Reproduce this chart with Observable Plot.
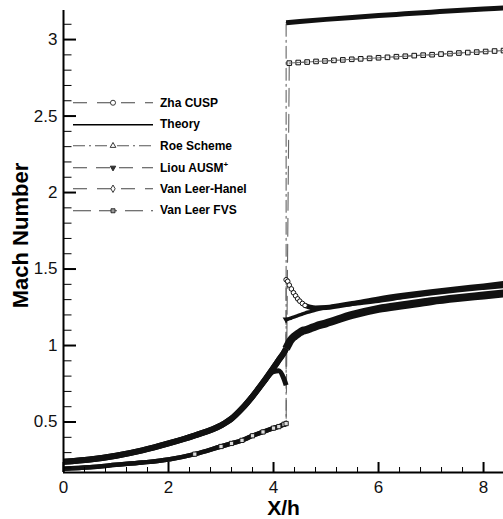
<!DOCTYPE html>
<html><head><meta charset="utf-8">
<script src="https://cdn.jsdelivr.net/npm/d3@7"></script>
<script src="https://cdn.jsdelivr.net/npm/@observablehq/plot@0.6"></script>
<style>
html,body{margin:0;padding:0;background:#fff;}
#wrap{position:relative;width:503px;height:519px;font-family:"Liberation Sans",Arial,sans-serif;}
#legend{position:absolute;left:73px;top:92px;}
.row{display:flex;align-items:center;height:21.5px;}
.row svg{display:block;}
.row span{font-weight:bold;font-size:12px;margin-left:7px;color:#000;white-space:nowrap;}
.row sup{font-size:8px;}
</style></head><body><div id="wrap"><div id="legend"></div></div>
<script>
// ---------- data ----------
const seriesNames = ["Zha CUSP", "Theory", "Roe Scheme", "Liou AUSM+", "Van Leer-Hanel", "Van Leer FVS"];
const xDomain = [0, 8.38];
const yDomain = [0.17, 3.19];
const xTicks = [0, 2, 4, 6, 8];
const xTickLabels = ["0", "2", "4", "6", "8"];
const yTicks = [0.5, 1, 1.5, 2, 2.5, 3];
const yTickLabels = ["0.5", "1", "1.5", "2", "2.5", "3"];
const xLabel = "X/h";
const yLabel = "Mach Number";

// upstream of the shock
const xPre = [0, 0.5, 1, 1.5, 2, 2.5, 3, 3.2, 3.4, 3.6, 3.8, 4.0, 4.1, 4.2, 4.24];
const machPreUpper = [0.24, 0.255, 0.28, 0.315, 0.36, 0.412, 0.478, 0.522, 0.588, 0.668, 0.758, 0.855, 0.905, 0.955, 0.98];
const machPreLiou  = [0.24, 0.255, 0.28, 0.315, 0.36, 0.412, 0.478, 0.522, 0.588, 0.668, 0.755, 0.83, 0.835, 0.78, 0.74];
const machPreLower = [0.195, 0.205, 0.22, 0.235, 0.255, 0.29, 0.34, 0.36, 0.38, 0.41, 0.435, 0.46, 0.47, 0.485, 0.49];

// downstream, subsonic-side branches
const xPost = [4.24, 4.27, 4.3, 4.34, 4.38, 4.42, 4.46, 4.5, 4.55, 4.6, 4.7, 4.8, 5.0, 5.5, 6.0, 6.5, 7.0, 7.5, 8.0, 8.38];
const machPostZha   = [1.43, 1.42, 1.395, 1.37, 1.345, 1.325, 1.305, 1.29, 1.275, 1.262, 1.25, 1.245, 1.248, 1.275, 1.305, 1.33, 1.352, 1.372, 1.39, 1.405];
const machPostLiou  = [1.17, 1.172, 1.176, 1.18, 1.185, 1.19, 1.195, 1.2, 1.206, 1.212, 1.222, 1.232, 1.248, 1.27, 1.29, 1.315, 1.338, 1.358, 1.375, 1.387];
const machPostHanel = [0.98, 1.0, 1.02, 1.04, 1.055, 1.065, 1.075, 1.085, 1.095, 1.1, 1.112, 1.125, 1.145, 1.2, 1.24, 1.265, 1.29, 1.31, 1.327, 1.34];

// downstream, supersonic branches
const xUpper = [4.24, 4.5, 5, 5.5, 6, 6.5, 7, 7.5, 8, 8.38];
const machUpper = [3.11, 3.118, 3.132, 3.145, 3.157, 3.168, 3.179, 3.19, 3.2, 3.207];
const xUpperFVS = [4.3, 4.47, 4.64, 4.81, 4.98, 5.15, 5.32, 5.49, 5.66, 5.83, 6.0, 6.17, 6.34, 6.51, 6.68, 6.85, 7.02, 7.19, 7.36, 7.53, 7.7, 7.87, 8.04, 8.21, 8.38];
const machUpperFVS = [2.846, 2.85, 2.853, 2.857, 2.86, 2.864, 2.867, 2.871, 2.874, 2.877, 2.881, 2.884, 2.888, 2.891, 2.895, 2.898, 2.901, 2.905, 2.908, 2.912, 2.915, 2.918, 2.922, 2.925, 2.928];

// ---------- build tables ----------
const seg = (name, xs, ys) => xs.map((x, i) => ({name, x, y: ys[i]}));
const parts = {
  "Zha CUSP":       [seg("Zha CUSP", xPre, machPreUpper), seg("Zha CUSP", xPost, machPostZha)],
  "Theory":         [seg("Theory", xPre, machPreLower), seg("Theory", xUpper, machUpper)],
  "Roe Scheme":     [seg("Roe Scheme", xPre, machPreLower), seg("Roe Scheme", xUpper, machUpper)],
  "Liou AUSM+":     [seg("Liou AUSM+", xPre, machPreLiou), seg("Liou AUSM+", xPost, machPostLiou)],
  "Van Leer-Hanel": [seg("Van Leer-Hanel", xPre, machPreUpper), seg("Van Leer-Hanel", xPost, machPostHanel)],
  "Van Leer FVS":   [seg("Van Leer FVS", xPre, machPreLower), seg("Van Leer FVS", xUpperFVS, machUpperFVS)]
};

const styles = {
  "Zha CUSP":       {dash: "14,10", bands: [6, 5]},
  "Theory":         {dash: null, bands: [0, 0]},
  "Roe Scheme":     {dash: "12,4,2,4", bands: [4.5, 5]},
  "Liou AUSM+":     {dash: "14,9", bands: [5, 3.5]},
  "Van Leer-Hanel": {dash: "14,10", bands: [6, 8]},
  "Van Leer FVS":   {dash: "18,8", bands: [4.5, 0]}
};

const M = {left: 63, right: 0, top: 10, bottom: 47, width: 503, height: 519};

const marks = [];
// thin connecting lines (visible across the shock)
for (const name of seriesNames) {
  const p = parts[name];
  if (name === "Theory") {
    p.forEach(s => marks.push(Plot.line(s, {x: "x", y: "y", stroke: "#000", strokeWidth: 1})));
  } else {
    marks.push(Plot.line(p.flat(), {x: "x", y: "y", stroke: "#666", strokeWidth: 1.1, strokeDasharray: styles[name].dash}));
  }
}
// dense-symbol bands
for (const name of seriesNames) {
  const p = parts[name];
  styles[name].bands.forEach((w, i) => {
    if (!w) return;
    let d = p[i];
    if (name === "Zha CUSP" && i === 1) d = d.filter(r => r.x >= 4.6);
    marks.push(Plot.line(d, {x: "x", y: "y", stroke: "#111", strokeWidth: w, curve: "monotone-x", strokeLinecap: "butt"}));
  });
}
// individual symbols where they separate
marks.push(Plot.dot(parts["Zha CUSP"][1].filter(r => r.x < 4.65), {x: "x", y: "y", symbol: "circle", r: 2.3, fill: "white", stroke: "#111", strokeWidth: 1}));
marks.push(Plot.dot(parts["Van Leer FVS"][0].filter(r => r.x >= 2.5), {x: "x", y: "y", symbol: "square", r: 2.4, fill: "#ddd", stroke: "#111", strokeWidth: 0.9}));
marks.push(Plot.dot(parts["Van Leer FVS"][1], {x: "x", y: "y", symbol: "square", r: 2.6, fill: "#eee", stroke: "#111", strokeWidth: 1}));
marks.push(Plot.line(parts["Van Leer FVS"][1], {x: "x", y: "y", stroke: "#666", strokeWidth: 1, strokeDasharray: "18,8"}));
marks.push(Plot.dot(parts["Liou AUSM+"][1].slice(0, 1), {x: "x", y: "y", symbol: "triangle", rotate: 180, r: 2.6, fill: "#111"}));

// axes: inward ticks as short rules (lengths in px converted to data units)
const uy = (yDomain[1] - yDomain[0]) / (M.height - M.top - M.bottom);
const ux = (xDomain[1] - xDomain[0]) / (M.width - M.left - M.right);
const minorX = d3.range(0, 8.4, 0.4).filter(v => !xTicks.some(t => Math.abs(t - v) < 1e-6));
const minorY = d3.range(0.2, 3.15, 0.1).filter(v => !yTicks.some(t => Math.abs(t - v) < 1e-6));
marks.push(
  Plot.ruleX(minorX, {x: d => d, y1: yDomain[0], y2: yDomain[0] + 5 * uy, stroke: "#000", strokeWidth: 1}),
  Plot.ruleX(xTicks, {x: d => d, y1: yDomain[0], y2: yDomain[0] + 10 * uy, stroke: "#000", strokeWidth: 2}),
  Plot.ruleY(minorY, {y: d => d, x1: xDomain[0], x2: xDomain[0] + 8.5 * ux, stroke: "#000", strokeWidth: 1}),
  Plot.ruleY(yTicks, {y: d => d, x1: xDomain[0], x2: xDomain[0] + 13 * ux, stroke: "#000", strokeWidth: 2}),
  Plot.axisX(xTicks, {tickSize: 0, tickPadding: 8, tickFormat: d => xTickLabels[xTicks.indexOf(d)], label: null, fontSize: 17, fill: "#111"}),
  Plot.axisY(yTicks, {tickSize: 0, tickPadding: 6, tickFormat: d => yTickLabels[yTicks.indexOf(d)], label: null, fontSize: 17, fill: "#111"}),
  Plot.ruleY([yDomain[0]], {stroke: "#000", strokeWidth: 2}),
  Plot.ruleX([xDomain[0]], {stroke: "#000", strokeWidth: 2}),
  Plot.text([xLabel], {frameAnchor: "bottom", dy: 36, textAnchor: "middle", lineAnchor: "middle", fontSize: 21, fontWeight: "bold", fill: "#000"}),
  Plot.text([yLabel], {frameAnchor: "left", dx: -43, dy: -6, rotate: -90, textAnchor: "middle", lineAnchor: "middle", fontSize: 22, fontWeight: "bold", fill: "#000"})
);

const chart = Plot.plot({
  width: M.width, height: M.height,
  marginLeft: M.left, marginRight: M.right, marginTop: M.top, marginBottom: M.bottom,
  x: {domain: xDomain}, y: {domain: yDomain},
  style: {fontFamily: "'Liberation Sans', Arial, sans-serif", background: "white", overflow: "visible", color: "#000"},
  marks
});
document.getElementById("wrap").prepend(chart);

// ---------- legend ----------
const legendStyle = {
  "Zha CUSP":       {stroke: "#444", dash: "14,10", sym: d3.symbolCircle, size: 20, fill: "white", rot: 0},
  "Theory":         {stroke: "#000", dash: null, sym: null},
  "Roe Scheme":     {stroke: "#555", dash: "12,4,2,4", sym: d3.symbolTriangle, size: 14, fill: "white", rot: 0},
  "Liou AUSM+":     {stroke: "#444", dash: "14,9", sym: d3.symbolTriangle, size: 13, fill: "#333", rot: 180},
  "Van Leer-Hanel": {stroke: "#444", dash: "14,10", sym: d3.symbolDiamond, size: 16, fill: "white", rot: 0},
  "Van Leer FVS":   {stroke: "#444", dash: "18,8", sym: d3.symbolSquare, size: 16, fill: "#999", rot: 0}
};
const legend = d3.select("#legend");
seriesNames.forEach(name => {
  const st = legendStyle[name];
  const row = legend.append("div").attr("class", "row");
  const svg = row.append("svg").attr("width", 80).attr("height", 21.5);
  svg.append("line").attr("x1", 0).attr("x2", 80).attr("y1", 10.75).attr("y2", 10.75)
    .attr("stroke", st.stroke).attr("stroke-width", name === "Theory" ? 1.3 : 1.1)
    .attr("stroke-dasharray", st.dash);
  if (st.sym) {
    svg.append("path").attr("d", d3.symbol(st.sym, st.size)())
      .attr("transform", `translate(40,10.75) rotate(${st.rot})`)
      .attr("fill", st.fill).attr("stroke", "#222").attr("stroke-width", 0.9);
  }
  const span = row.append("span");
  if (name === "Liou AUSM+") { span.text("Liou AUSM"); span.append("sup").text("+"); }
  else span.text(name);
});
</script></body></html>
